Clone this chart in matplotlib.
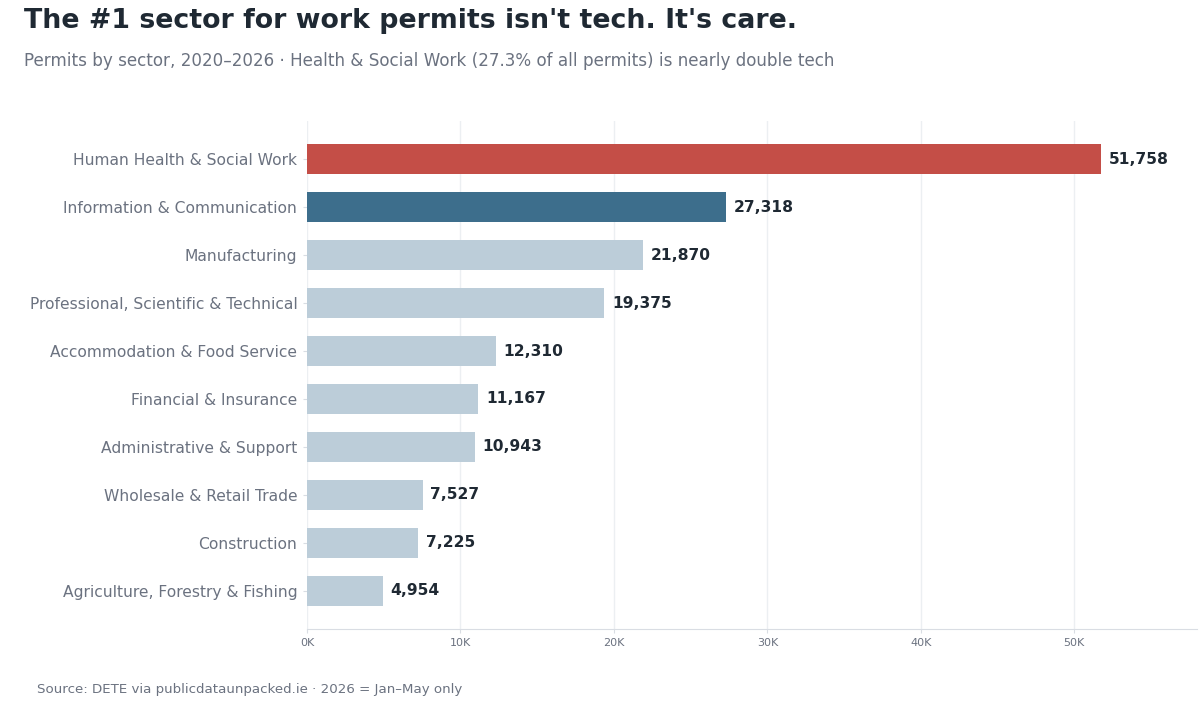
import matplotlib
matplotlib.use("Agg")
import matplotlib.pyplot as plt
from matplotlib.ticker import FuncFormatter

sectors = [
    "Human Health & Social Work",
    "Information & Communication",
    "Manufacturing",
    "Professional, Scientific & Technical",
    "Accommodation & Food Service",
    "Financial & Insurance",
    "Administrative & Support",
    "Wholesale & Retail Trade",
    "Construction",
    "Agriculture, Forestry & Fishing",
]
permits = [51758, 27318, 21870, 19375, 12310, 11167, 10943, 7527, 7225, 4954]
xticks = [0, 10000, 20000, 30000, 40000, 50000]

RED = "#c44e47"
BLUE = "#3d6e8c"
LIGHT = "#bccdd9"
DARK = "#1f2933"
GREY = "#6b7280"

colors = [RED, BLUE] + [LIGHT] * (len(sectors) - 2)

fig = plt.figure(figsize=(12, 7.03), dpi=100)
ax = fig.add_axes([307 / 1200, 1 - 629 / 703, 890 / 1200, 508 / 703])

ypos = list(range(len(sectors)))
ax.barh(ypos, permits, height=0.62, color=colors, zorder=3)
for y, v in zip(ypos, permits):
    ax.text(v + 500, y, f"{v:,}", va="center", ha="left",
            fontsize=11.2, fontweight="bold", color=DARK)

ax.set_yticks(ypos)
ax.set_yticklabels(sectors, fontsize=11.2, color=GREY)
ax.set_ylim(len(sectors) - 0.2, -0.8)
ax.set_xlim(0, 58000)
ax.set_xticks(xticks)
ax.xaxis.set_major_formatter(FuncFormatter(lambda x, p: f"{int(x / 1000)}K"))
ax.tick_params(axis="x", labelsize=8, colors=GREY, length=3, color="#d9dde3")
ax.tick_params(axis="y", length=3, color="#d9dde3", pad=4)
ax.grid(axis="x", color="#eceff2", linewidth=1, zorder=0)
for s in ["top", "right", "left"]:
    ax.spines[s].set_visible(False)
ax.spines["bottom"].set_color("#d9dde3")

fig.text(24 / 1200, 1 - 21 / 703, "The #1 sector for work permits isn't tech. It's care.",
         fontsize=19.3, fontweight="bold", color=DARK, va="center")
fig.text(24 / 1200, 1 - 61 / 703,
         "Permits by sector, 2020–2026 · Health & Social Work (27.3% of all permits) is nearly double tech",
         fontsize=12.1, color=GREY, va="center")
fig.text(37 / 1200, 1 - 689 / 703, "Source: DETE via publicdataunpacked.ie · 2026 = Jan–May only",
         fontsize=9.6, color=GREY, va="center")

fig.savefig("out.png", dpi=100, facecolor="white")
